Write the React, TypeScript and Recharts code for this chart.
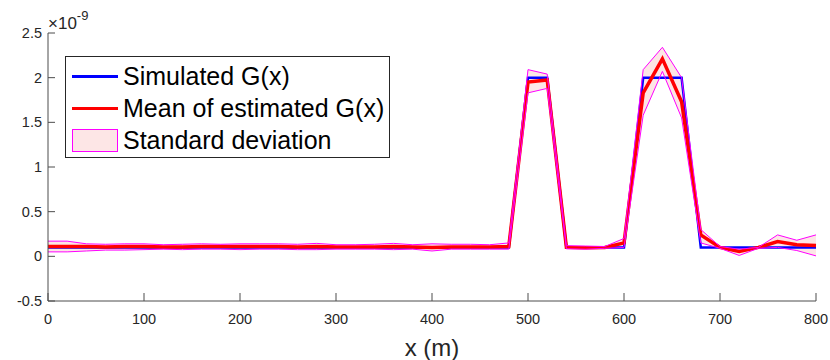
import { ComposedChart, XAxis, YAxis, Area, Line } from "recharts";

// distance along the profile (m)
const xs = [
  0, 20, 40, 60, 80, 100, 120, 140, 160, 180, 200, 220, 240, 260, 280, 300, 320, 340, 360, 380,
  400, 420, 440, 460, 480, 500, 520, 540, 560, 580, 600, 620, 640, 660, 680, 700, 720, 740, 760, 780, 800,
];

// values in units of 1e-9
const simulated = [
  0.1, 0.1, 0.1, 0.1, 0.1, 0.1, 0.1, 0.1, 0.1, 0.1, 0.1, 0.1, 0.1, 0.1, 0.1, 0.1, 0.1, 0.1, 0.1, 0.1,
  0.1, 0.1, 0.1, 0.1, 0.1, 2, 2, 0.1, 0.1, 0.1, 0.1, 2, 2, 2, 0.1, 0.1, 0.1, 0.1, 0.1, 0.1, 0.1,
];

const meanEst = [
  0.11, 0.11, 0.11, 0.105, 0.11, 0.11, 0.105, 0.105, 0.11, 0.11, 0.11, 0.11, 0.11, 0.105, 0.11, 0.105, 0.105, 0.105, 0.11, 0.105,
  0.1, 0.105, 0.105, 0.105, 0.11, 1.95, 1.975, 0.1, 0.095, 0.1, 0.15, 1.83, 2.21, 1.73, 0.24, 0.1, 0.055, 0.1, 0.165, 0.13, 0.12,
];

const upperStd = [
  0.17, 0.17, 0.14, 0.135, 0.14, 0.14, 0.13, 0.135, 0.14, 0.135, 0.14, 0.14, 0.14, 0.135, 0.145, 0.13, 0.13, 0.135, 0.145, 0.13,
  0.14, 0.135, 0.135, 0.13, 0.15, 2.09, 2.04, 0.12, 0.115, 0.11, 0.2, 2.09, 2.34, 2.0, 0.3, 0.11, 0.08, 0.1, 0.24, 0.18, 0.24,
];

const lowerStd = [
  0.05, 0.05, 0.06, 0.07, 0.07, 0.075, 0.08, 0.075, 0.08, 0.08, 0.075, 0.08, 0.08, 0.075, 0.075, 0.08, 0.08, 0.08, 0.075, 0.08,
  0.06, 0.08, 0.08, 0.08, 0.08, 1.83, 1.88, 0.085, 0.08, 0.09, 0.1, 1.58, 2.07, 1.55, 0.15, 0.09, 0.01, 0.09, 0.1, 0.065, 0.005,
];

const xTicks = [0, 100, 200, 300, 400, 500, 600, 700, 800];
const yTicks = [-0.5, 0, 0.5, 1, 1.5, 2, 2.5];

const data = xs.map((x, i) => ({
  x,
  sim: simulated[i],
  mean: meanEst[i],
  upper: upperStd[i],
  lower: lowerStd[i],
  band: [lowerStd[i], upperStd[i]],
}));

const FONT = "'Liberation Sans', Arial, Helvetica, sans-serif";
const TEXT = "#262626";
const AXIS = "#4d4d4d";

const XTick = (props: any) => {
  const { x, y, payload } = props;
  return (
    <g>
      <line x1={x} x2={x} y1={y} y2={y - 8} stroke={AXIS} strokeWidth={1} />
      <text x={x} y={y + 23} textAnchor="middle" fontSize={14.5} fill={TEXT} fontFamily={FONT}>
        {payload.value}
      </text>
    </g>
  );
};

const YTick = (props: any) => {
  const { x, y, payload } = props;
  return (
    <g>
      <line x1={x} x2={x + 7} y1={y} y2={y} stroke={AXIS} strokeWidth={1} />
      <text x={x - 6} y={y + 5} textAnchor="end" fontSize={14.5} fill={TEXT} fontFamily={FONT}>
        {payload.value}
      </text>
    </g>
  );
};

const legendItems = [
  { label: "Simulated G(x)", kind: "line", color: "#0000ff" },
  { label: "Mean of estimated G(x)", kind: "line", color: "#ff0000" },
  { label: "Standard deviation", kind: "patch", color: "#ff00ff" },
];

export default function App() {
  return (
    <div style={{ position: "absolute", left: 0, top: 0, width: 830, height: 360, background: "#fff" }}>
      <ComposedChart width={830} height={360} data={data} margin={{ top: 33, right: 14, bottom: 0, left: 0 }}>
        <XAxis
          dataKey="x"
          type="number"
          domain={[0, 800]}
          ticks={xTicks}
          tickSize={0}
          tickMargin={0}
          tick={<XTick />}
          height={59}
          stroke={AXIS}
          label={{ value: "x (m)", position: "insideBottom", offset: 4, fontSize: 24, fill: TEXT, fontFamily: FONT }}
        />
        <YAxis
          type="number"
          domain={[-0.5, 2.5]}
          ticks={yTicks}
          width={48}
          tickSize={0}
          tickMargin={0}
          tick={<YTick />}
          stroke={AXIS}
        />
        <Area
          dataKey="band"
          type="linear"
          fill="#fde6e6"
          fillOpacity={1}
          stroke="none"
          isAnimationActive={false}
        />
        <Line dataKey="sim" type="linear" stroke="#0000ff" strokeWidth={2.5} dot={false} isAnimationActive={false} />
        <Line dataKey="mean" type="linear" stroke="#ff0000" strokeWidth={3.5} dot={false} isAnimationActive={false} />
        <Line dataKey="upper" type="linear" stroke="#ff00ff" strokeWidth={1} dot={false} isAnimationActive={false} />
        <Line dataKey="lower" type="linear" stroke="#ff00ff" strokeWidth={1} dot={false} isAnimationActive={false} />
      </ComposedChart>

      <svg
        width={120}
        height={34}
        style={{ position: "absolute", left: 0, top: 0 }}
      >
        <text x={48} y={29} fontFamily={FONT} fontSize={17} fill={TEXT}>
          ×10
          <tspan dy={-9} fontSize={13}>-9</tspan>
        </text>
      </svg>

      <div
        style={{
          position: "absolute",
          left: 65,
          top: 56,
          width: 323,
          height: 100,
          border: `1px solid ${TEXT}`,
          background: "#fff",
          fontFamily: FONT,
          fontSize: 25,
          color: "#000",
        }}
      >
        {legendItems.map((item, i) => (
          <div
            key={item.label}
            style={{ position: "absolute", left: 6, top: 3 + i * 32, height: 32, display: "flex", alignItems: "center", whiteSpace: "nowrap" }}
          >
            {item.kind === "line" ? (
              <div style={{ width: 46, height: 3, background: item.color }} />
            ) : (
              <div style={{ width: 44, height: 21, background: "#fde6e6", border: `1px solid ${item.color}` }} />
            )}
            <span style={{ marginLeft: 5 }}>{item.label}</span>
          </div>
        ))}
      </div>
    </div>
  );
}
